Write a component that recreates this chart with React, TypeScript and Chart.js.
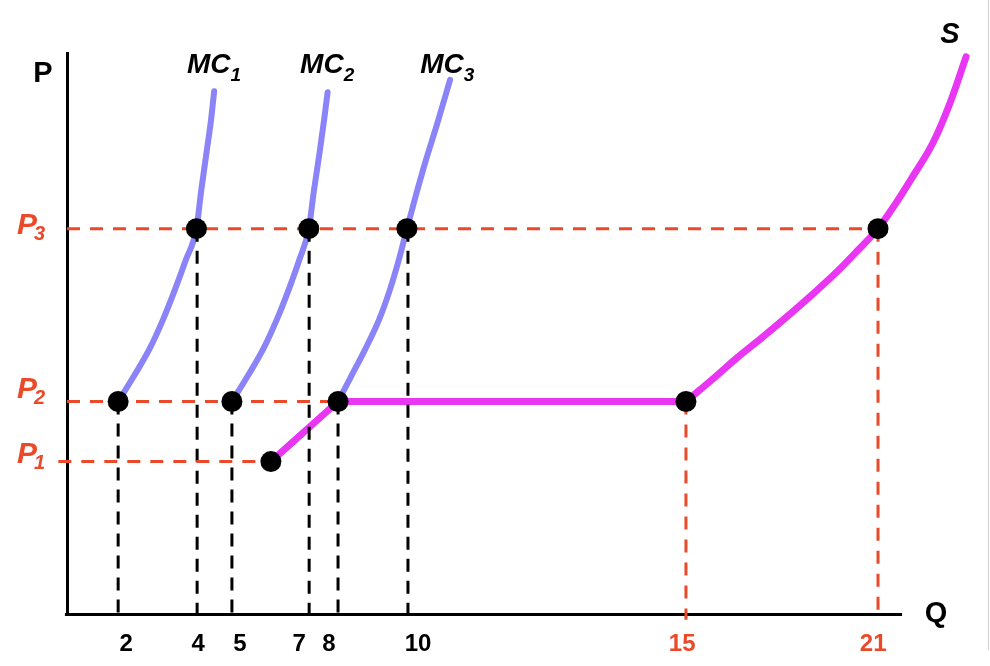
import { useEffect, useRef } from "react";
import { Chart, registerables } from "chart.js";

Chart.register(...registerables);

// ---- Data (schematic units: horizontal axis 0..24, vertical axis 0..10) ----
// Quantity tick labels and where they sit along the horizontal axis
const qTickPos = [1.7, 3.77, 4.97, 6.67, 7.53, 10.09, 17.68, 23.17];
const qTickLabels = ["2", "4", "5", "7", "8", "10", "15", "21"];
const qTickIsMarket = [false, false, false, false, false, false, true, true];

// Price levels P1, P2, P3
const priceLevels = [2.72, 3.79, 6.87];
const priceSubs = ["1", "2", "3"];
const priceLineFrom = [-0.25, 0, 0];
const priceLineTo = [5.86, 7.79, 23.31];

// Vertical drop lines (quantity positions) and the price level each starts from
const qLinePos = [1.47, 3.74, 4.74, 6.96, 7.79, 9.8, 17.79, 23.31];
const qLineLevel = [1, 2, 1, 2, 1, 2, 1, 2];
const qLineIsMarket = [false, false, false, false, false, false, true, true];

// Marginal cost curves of the three firms
const mc1: [number, number][] = [
  [1.47, 3.79], [1.95, 4.27], [2.39, 4.75], [2.76, 5.25], [3.1, 5.78],
  [3.42, 6.32], [3.72, 6.87], [3.86, 7.56], [4.02, 8.27], [4.14, 8.81], [4.23, 9.32],
];
const mc2: [number, number][] = [
  [4.74, 3.79], [5.22, 4.27], [5.66, 4.75], [6.03, 5.25], [6.37, 5.78],
  [6.68, 6.32], [6.95, 6.87], [7.1, 7.56], [7.27, 8.27], [7.39, 8.81], [7.49, 9.3],
];
const mc3Lower: [number, number][] = [[5.86, 2.72], [7.79, 3.79]];
const mc3: [number, number][] = [
  [7.79, 3.79], [8.16, 4.23], [8.57, 4.72], [8.97, 5.25], [9.28, 5.78],
  [9.54, 6.32], [9.77, 6.87], [10.03, 7.47], [10.32, 8.1], [10.63, 8.72], [11.01, 9.52],
];
// Market supply curve S
const sLower: [number, number][] = [[5.86, 2.72], [7.79, 3.79], [17.79, 3.79]];
const sUpper: [number, number][] = [
  [17.79, 3.79], [18.54, 4.18], [19.26, 4.57], [19.98, 4.93], [20.69, 5.3],
  [21.41, 5.69], [22.13, 6.1], [22.74, 6.49], [23.31, 6.87], [23.8, 7.3],
  [24.29, 7.78], [24.89, 8.4], [25.38, 9.11], [25.84, 9.93],
];
// Highlighted points
const dots: [number, number][] = [
  [1.47, 3.79], [3.72, 6.87], [4.74, 3.79], [6.95, 6.87], [5.86, 2.72],
  [7.79, 3.79], [9.77, 6.87], [17.79, 3.79], [23.31, 6.87],
];

// ---- Styles ----
const FONT = '"Liberation Sans", Arial, Helvetica, sans-serif';
const BLACK = "#000000";
const ORANGE = "#ea4a2a";
const LAVENDER = "#8b83f8";
const MAGENTA = "#e836f2";

const toXY = (pts: [number, number][]) => pts.map(([x, y]) => ({ x, y }));

function drawSub(
  ctx: CanvasRenderingContext2D,
  main: string,
  sub: string,
  left: number,
  baseline: number,
  mainFont: string,
  subFont: string,
  dx: number,
  dy: number
) {
  ctx.textAlign = "left";
  ctx.font = mainFont;
  ctx.fillText(main, left, baseline);
  const w = ctx.measureText(main).width;
  ctx.font = subFont;
  ctx.fillText(sub, left + w + dx, baseline + dy);
}

// Horizontal axis line, drawn only up to the end of the quantity axis (24)
const axisLinePlugin = {
  id: "qAxisLine",
  beforeDatasetsDraw(chart: any) {
    const { ctx } = chart;
    const sx = chart.scales.x;
    const sy = chart.scales.y;
    const yPix = Math.round(sy.getPixelForValue(0)) + 0.5;
    ctx.save();
    ctx.strokeStyle = BLACK;
    ctx.lineWidth = 3;
    ctx.beginPath();
    ctx.moveTo(sx.getPixelForValue(-0.06), yPix);
    ctx.lineTo(sx.getPixelForValue(24), yPix);
    ctx.stroke();
    ctx.restore();
  },
};

const labelsPlugin = {
  id: "econLabels",
  afterDatasetsDraw(chart: any) {
    const { ctx } = chart;
    const sx = chart.scales.x;
    const sy = chart.scales.y;
    const px = (v: number) => sx.getPixelForValue(v);
    const py = (v: number) => sy.getPixelForValue(v);
    ctx.save();
    ctx.textBaseline = "alphabetic";

    // Axis names
    ctx.fillStyle = BLACK;
    ctx.font = `bold 29px ${FONT}`;
    ctx.textAlign = "center";
    ctx.fillText("P", px(-0.69), py(9.48));
    ctx.fillText("Q", px(24.98), py(-0.14));
    ctx.font = `italic bold 29px ${FONT}`;
    ctx.fillText("S", px(25.38), py(10.18));

    // MC labels
    const mcLeft = [3.45, 6.7, 10.15];
    ["1", "2", "3"].forEach((s, i) => {
      drawSub(ctx, "MC", s, px(mcLeft[i]), py(9.64),
        `italic bold 28px ${FONT}`, `italic bold 19px ${FONT}`, 0, 8);
    });

    // Price labels
    ctx.fillStyle = ORANGE;
    const pBase = [2.7, 3.86, 6.78];
    priceLevels.forEach((_, i) => {
      drawSub(ctx, "P", priceSubs[i], px(-1.44), py(pBase[i]),
        `italic bold 30px ${FONT}`, `italic bold 20px ${FONT}`, -3, 6);
    });
    ctx.restore();
  },
};

export default function App() {
  const ref = useRef<HTMLCanvasElement | null>(null);

  useEffect(() => {
    if (!ref.current) return;
    const datasets: any[] = [];

    datasets.push({
      label: "points",
      data: toXY(dots),
      showLine: false,
      pointRadius: 10.5,
      pointBackgroundColor: BLACK,
      pointBorderWidth: 0,
      order: 0,
      clip: false,
    });

    priceLevels.forEach((lvl, i) => {
      datasets.push({
        label: "P" + priceSubs[i],
        data: [{ x: priceLineFrom[i], y: lvl }, { x: priceLineTo[i], y: lvl }],
        showLine: true,
        borderColor: ORANGE,
        borderWidth: 3,
        borderDash: [13, 10],
        pointRadius: 0,
        order: 1,
        clip: false,
      });
    });

    qLinePos.forEach((q, i) => {
      const market = qLineIsMarket[i];
      datasets.push({
        label: "q" + i,
        data: [{ x: q, y: priceLevels[qLineLevel[i]] }, { x: q, y: -0.1 }],
        showLine: true,
        borderColor: market ? ORANGE : BLACK,
        borderWidth: 3,
        borderDash: market ? [13, 10] : [13, 9],
        pointRadius: 0,
        order: 1,
        clip: false,
      });
    });

    datasets.push({
      label: "S low",
      data: toXY(sLower),
      showLine: true,
      borderColor: MAGENTA,
      borderWidth: 7,
      borderCapStyle: "round",
      borderJoinStyle: "round",
      pointRadius: 0,
      tension: 0,
      order: 2,
      clip: false,
    });
    datasets.push({
      label: "S",
      data: toXY(sUpper),
      showLine: true,
      borderColor: MAGENTA,
      borderWidth: 7,
      borderCapStyle: "round",
      borderJoinStyle: "round",
      pointRadius: 0,
      cubicInterpolationMode: "monotone",
      order: 2,
      clip: false,
    });

    datasets.push({
      label: "MC3 low",
      data: toXY(mc3Lower),
      showLine: true,
      borderColor: LAVENDER,
      borderWidth: 6,
      borderCapStyle: "round",
      pointRadius: 0,
      tension: 0,
      order: 3,
      clip: false,
    });
    [mc1, mc2, mc3].forEach((pts, i) => {
      datasets.push({
        label: "MC" + (i + 1),
        data: toXY(pts),
        showLine: true,
        borderColor: LAVENDER,
        borderWidth: 6,
        borderCapStyle: "round",
        borderJoinStyle: "round",
        pointRadius: 0,
        cubicInterpolationMode: "monotone",
        order: 3,
        clip: false,
      });
    });

    const chart = new Chart(ref.current, {
      type: "scatter",
      data: { datasets },
      options: {
        responsive: false,
        animation: false,
        events: [],
        layout: { padding: { left: 67, right: 18.4, top: 53, bottom: 10 } },
        plugins: { legend: { display: false }, tooltip: { enabled: false } },
        scales: {
          x: {
            type: "linear",
            min: 0,
            max: 26,
            grid: { display: false, drawTicks: false },
            border: { display: false },
            afterBuildTicks: (scale: any) => {
              scale.ticks = qTickPos.map((v) => ({ value: v }));
            },
            ticks: {
              autoSkip: false,
              maxRotation: 0,
              padding: 16,
              font: { family: FONT, size: 24, weight: "bold" },
              color: (ctx: any) => (qTickIsMarket[ctx.index] ? ORANGE : BLACK),
              callback: (_v: any, i: number) => qTickLabels[i],
            },
          },
          y: {
            type: "linear",
            min: 0,
            max: 10,
            grid: { display: false, drawTicks: false },
            border: { display: true, color: BLACK, width: 3 },
            ticks: { display: false },
          },
        },
      },
      plugins: [axisLinePlugin, labelsPlugin],
    } as any);

    return () => chart.destroy();
  }, []);

  return (
    <div style={{ position: "fixed", left: 0, top: 0, width: 990, height: 666, overflow: "hidden", background: "#fff" }}>
      <canvas ref={ref} width={990} height={685} style={{ display: "block" }} />
      <div style={{ position: "absolute", left: 988, top: 0, width: 1, height: 650, background: "#cfcfcf" }} />
    </div>
  );
}
